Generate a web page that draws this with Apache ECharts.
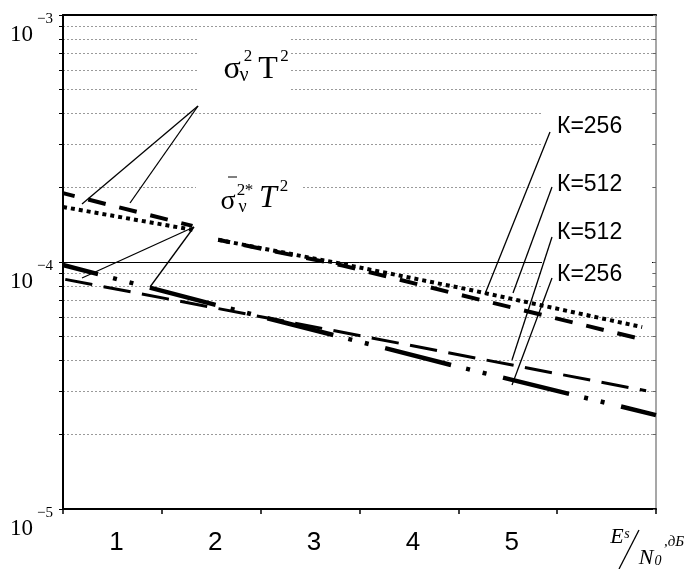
<!DOCTYPE html>
<html><head><meta charset="utf-8">
<script src="https://cdn.jsdelivr.net/npm/echarts@6/dist/echarts.min.js"></script>
<style>html,body{margin:0;padding:0;background:#fff}#c{width:696px;height:569px}</style>
</head><body><div id="c"></div>
<script>
// ---- data ----
const xCategories = ['1', '2', '3', '4', '5', ''];
const yLabelTicks = [1e-5, 1e-4, 1e-3];
const yGridTicks = [1e-5, 2e-5, 3e-5, 4e-5, 5e-5, 6e-5, 7e-5, 8e-5, 9e-5,
                    1e-4, 2e-4, 3e-4, 4e-4, 5e-4, 6e-4, 7e-4, 8e-4, 9e-4, 1e-3];
const yMajorLine = [1e-4];

// σν²T², К=512 (dashed)
const xUpperDash = [0.5, 1.81, 1.94, 2.07, 3.33, 4.5, 6.39];
const yUpperDash = [1.90e-4, 1.40e-4, null, 1.23e-4, 9.68e-5, 7.39e-5, 4.83e-5];
// σν²T², К=256 (dotted)
const xUpperDot = [0.5, 1.81, 1.94, 2.07, 3.33, 4.6, 6.36];
const yUpperDot = [1.67e-4, 1.35e-4, null, 1.23e-4, 9.81e-5, 7.74e-5, 5.45e-5];
// σν²*T², К=512 (long dash)
const xLowerDash = [0.5, 3.30, 4.78, 6.40];
const yLowerDash = [8.54e-5, 5.22e-5, 4.01e-5, 3.01e-5];
// σν²*T², К=256 (dash-dot-dot)
const xLowerDDot = [0.5, 2.44, 4.46, 6.5];
const yLowerDDot = [9.72e-5, 6.10e-5, 3.80e-5, 2.40e-5];

function pairs(xs, ys) { return xs.map((x, i) => [x, ys[i] === null ? '-' : ys[i]]); }

const chart = echarts.init(document.getElementById('c'), null, {renderer: 'canvas'});
const SERIF = '"Liberation Serif", "Times New Roman", serif';
const SANS = '"Liberation Sans", Arial, sans-serif';

function mkSeries(name, xs, ys, width, dash, offset) {
  return {
    name: name, type: 'line', xAxisIndex: 1, yAxisIndex: 0,
    data: pairs(xs, ys), symbol: 'none', showSymbol: false, silent: true,
    connectNulls: false, z: 2,
    lineStyle: {color: '#000', width: width, type: dash, dashOffset: offset || 0, cap: 'butt'}
  };
}

function txt(text, x, y, font, align) {
  return {type: 'text', x: x, y: y, z: 10, silent: true,
    style: {text: text, font: font, fill: '#000', align: align || 'center', verticalAlign: 'middle',
            textAlign: align || 'center', textVerticalAlign: 'middle'}};
}
function ln(x1, y1, x2, y2, w) {
  return {type: 'line', z: 10, silent: true, shape: {x1: x1, y1: y1, x2: x2, y2: y2},
    style: {stroke: '#000', lineWidth: w || 1.3}};
}
function box(x, y, w, h) {
  return {type: 'rect', z: 1, silent: true, shape: {x: x, y: y, width: w, height: h},
    style: {fill: '#fff'}};
}

const option = {
  animation: false,
  backgroundColor: '#fff',
  grid: {left: 63, top: 15, right: 40, bottom: 60, containLabel: false},
  xAxis: [
    {type: 'category', data: xCategories, boundaryGap: true, position: 'bottom',
     axisLine: {lineStyle: {color: '#000', width: 2}},
     axisTick: {show: true, length: 5, lineStyle: {color: '#000', width: 1.5}},
     axisLabel: {fontSize: 26, fontFamily: SANS, color: '#000', margin: 21, padding: [0, 0, 0, 8]},
     splitLine: {show: false}},
    {type: 'value', min: 0.5, max: 6.5, show: false, position: 'bottom'},
    {type: 'category', data: xCategories, position: 'top',
     axisLine: {lineStyle: {color: '#000', width: 2}},
     axisTick: {show: false}, axisLabel: {show: false}, splitLine: {show: false}}
  ],
  yAxis: [
    {type: 'log', logBase: 10, min: 1e-5, max: 1e-3, position: 'left',
     axisLine: {show: true, lineStyle: {color: '#000', width: 2}},
     axisTick: {show: true, customValues: yGridTicks, length: 4, lineStyle: {color: '#000', width: 1}},
     axisLabel: {customValues: yLabelTicks, margin: 10, verticalAlign: 'top', align: 'right', color: '#000',
       formatter: function (v) { return '{s|\u2212' + (-Math.round(Math.log10(v))) + '}\n{b|10}'; },
       rich: {b: {fontSize: 23, fontFamily: SERIF, color: '#000', lineHeight: 24, padding: [0, 20, 0, 0]},
              s: {fontSize: 15, fontFamily: SERIF, color: '#000', lineHeight: 8}}},
     splitLine: {show: true, lineStyle: {color: '#9a9a9a', width: 1, type: [2, 2]}},
     minorTick: {show: false}, minorSplitLine: {show: false}},
    {type: 'log', logBase: 10, min: 1e-5, max: 1e-3, position: 'right',
     axisLine: {show: true, lineStyle: {color: '#8a8a8a', width: 1.5}},
     axisTick: {show: true, inside: true, customValues: yGridTicks, length: 3, lineStyle: {color: '#666'}},
     axisLabel: {show: false}, splitLine: {show: false}},
    {type: 'log', logBase: 10, min: 1e-5, max: 1e-3, position: 'left', offset: 0,
     axisLine: {show: false}, axisTick: {show: false, customValues: yMajorLine},
     axisLabel: {show: false, customValues: yMajorLine},
     splitLine: {show: true, lineStyle: {color: '#000', width: 1, type: 'solid'}}}
  ],
  series: [
    mkSeries('σν²T² К=512', xUpperDash, yUpperDash, 4, [18, 14], 6),
    mkSeries('σν²T² К=256', xUpperDot, yUpperDot, 4, [4, 4], 0),
    mkSeries('σν²*T² К=512', xLowerDash, yLowerDash, 3, [27.5, 11.5], 36.7),
    mkSeries('σν²*T² К=256', xLowerDDot, yLowerDDot, 4.5, [68, 15.5, 4, 13, 4, 17], 31.8)
  ],
  graphic: {elements: [
    // white label backgrounds
    box(199, 32, 92, 66),
    box(196, 170, 106, 66),
    box(542, 100, 110, 194),
    // σν²T² label
    txt('σ', 232, 70, '32px ' + SERIF),
    txt('2', 248, 57, '17px ' + SERIF),
    txt('ν', 244, 76, '20px ' + SERIF),
    txt('T', 268, 70, '32px ' + SERIF),
    txt('2', 284.5, 57, '17px ' + SERIF),
    // σ̄ν²*T² label
    ln(228, 177, 237, 177, 1),
    txt('σ', 228, 202, '28px ' + SERIF),
    txt('2', 241, 191, '17px ' + SERIF),
    txt('*', 249, 191, '17px ' + SERIF),
    txt('ν', 242.5, 207, '18px ' + SERIF),
    txt('T', 268, 199, 'italic 32px ' + SERIF),
    txt('2', 284, 187, '17px ' + SERIF),
    // K labels
    txt('К=256', 557, 127, '23px ' + SANS, 'left'),
    txt('К=512', 557, 185, '23px ' + SANS, 'left'),
    txt('К=512', 557, 233, '23px ' + SANS, 'left'),
    txt('К=256', 557, 275, '23px ' + SANS, 'left'),
    // leader lines
    ln(198, 106, 82, 204), ln(198, 106, 130, 203),
    ln(194, 227, 82, 278), ln(194, 227, 150, 287),
    ln(550, 132, 485, 294),
    ln(552, 187, 513, 293),
    ln(552, 237, 512, 360),
    ln(552, 278, 512, 385),
    // x-axis name Es/N0, дБ
    txt('E', 617, 537, 'italic 22px ' + SERIF),
    txt('s', 627, 534, 'italic 14px ' + SERIF),
    ln(639, 530, 619, 569, 1.3),
    txt('N', 646, 558, 'italic 22px ' + SERIF),
    txt('0', 658, 561, 'italic 14px ' + SERIF),
    txt(',дБ', 664, 542, 'italic 15px ' + SERIF, 'left')
  ]}
};
chart.setOption(option);
</script>
</body></html>
